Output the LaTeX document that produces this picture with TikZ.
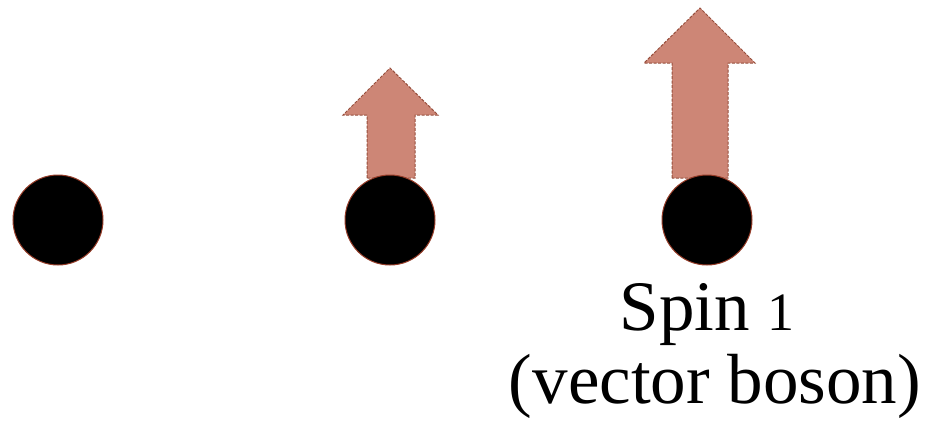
\documentclass[tikz,border=0pt]{standalone}
\usepackage{fontspec}
\setmainfont{Liberation Serif}
\begin{document}
\begin{tikzpicture}[x=1pt,y=-1pt,
  ball/.style={circle,fill=black,draw=ballrim,line width=1pt,minimum size=90pt,inner sep=0pt},
  spinarrow/.style={fill=arrowfill,draw=arrowedge,dash pattern=on 3pt off 1.5pt,line width=1pt,line join=miter},
  caption/.style={font=\fontsize{71}{80}\selectfont,align=center,inner sep=0pt}]
\definecolor{arrowfill}{RGB}{205,134,118}
\definecolor{arrowedge}{RGB}{150,78,60}
\definecolor{ballrim}{RGB}{150,60,40}
\useasboundingbox (0,0) rectangle (934,423);

% spin arrows (drawn first so the balls sit over the shaft ends)
\draw[spinarrow] (367,178) -- (367,115) -- (343,115) -- (390,68) -- (438,115) -- (415,115) -- (415,178) -- cycle;
\draw[spinarrow] (672,178) -- (672,63) -- (644,63) -- (700,8) -- (755,63) -- (728,63) -- (728,178) -- cycle;

% particles
\node[ball] (b0) at (58,220) {};
\node[ball] (b1) at (390,220) {};
\node[ball] (b2) at (707,220) {};

% label
\node[caption,anchor=base] (lab1) at (707,330) {Spin {\fontsize{54}{60}\selectfont 1}};
\node[caption,anchor=base] (lab2) at (715,403) {(vector boson)};
\end{tikzpicture}
\end{document}
